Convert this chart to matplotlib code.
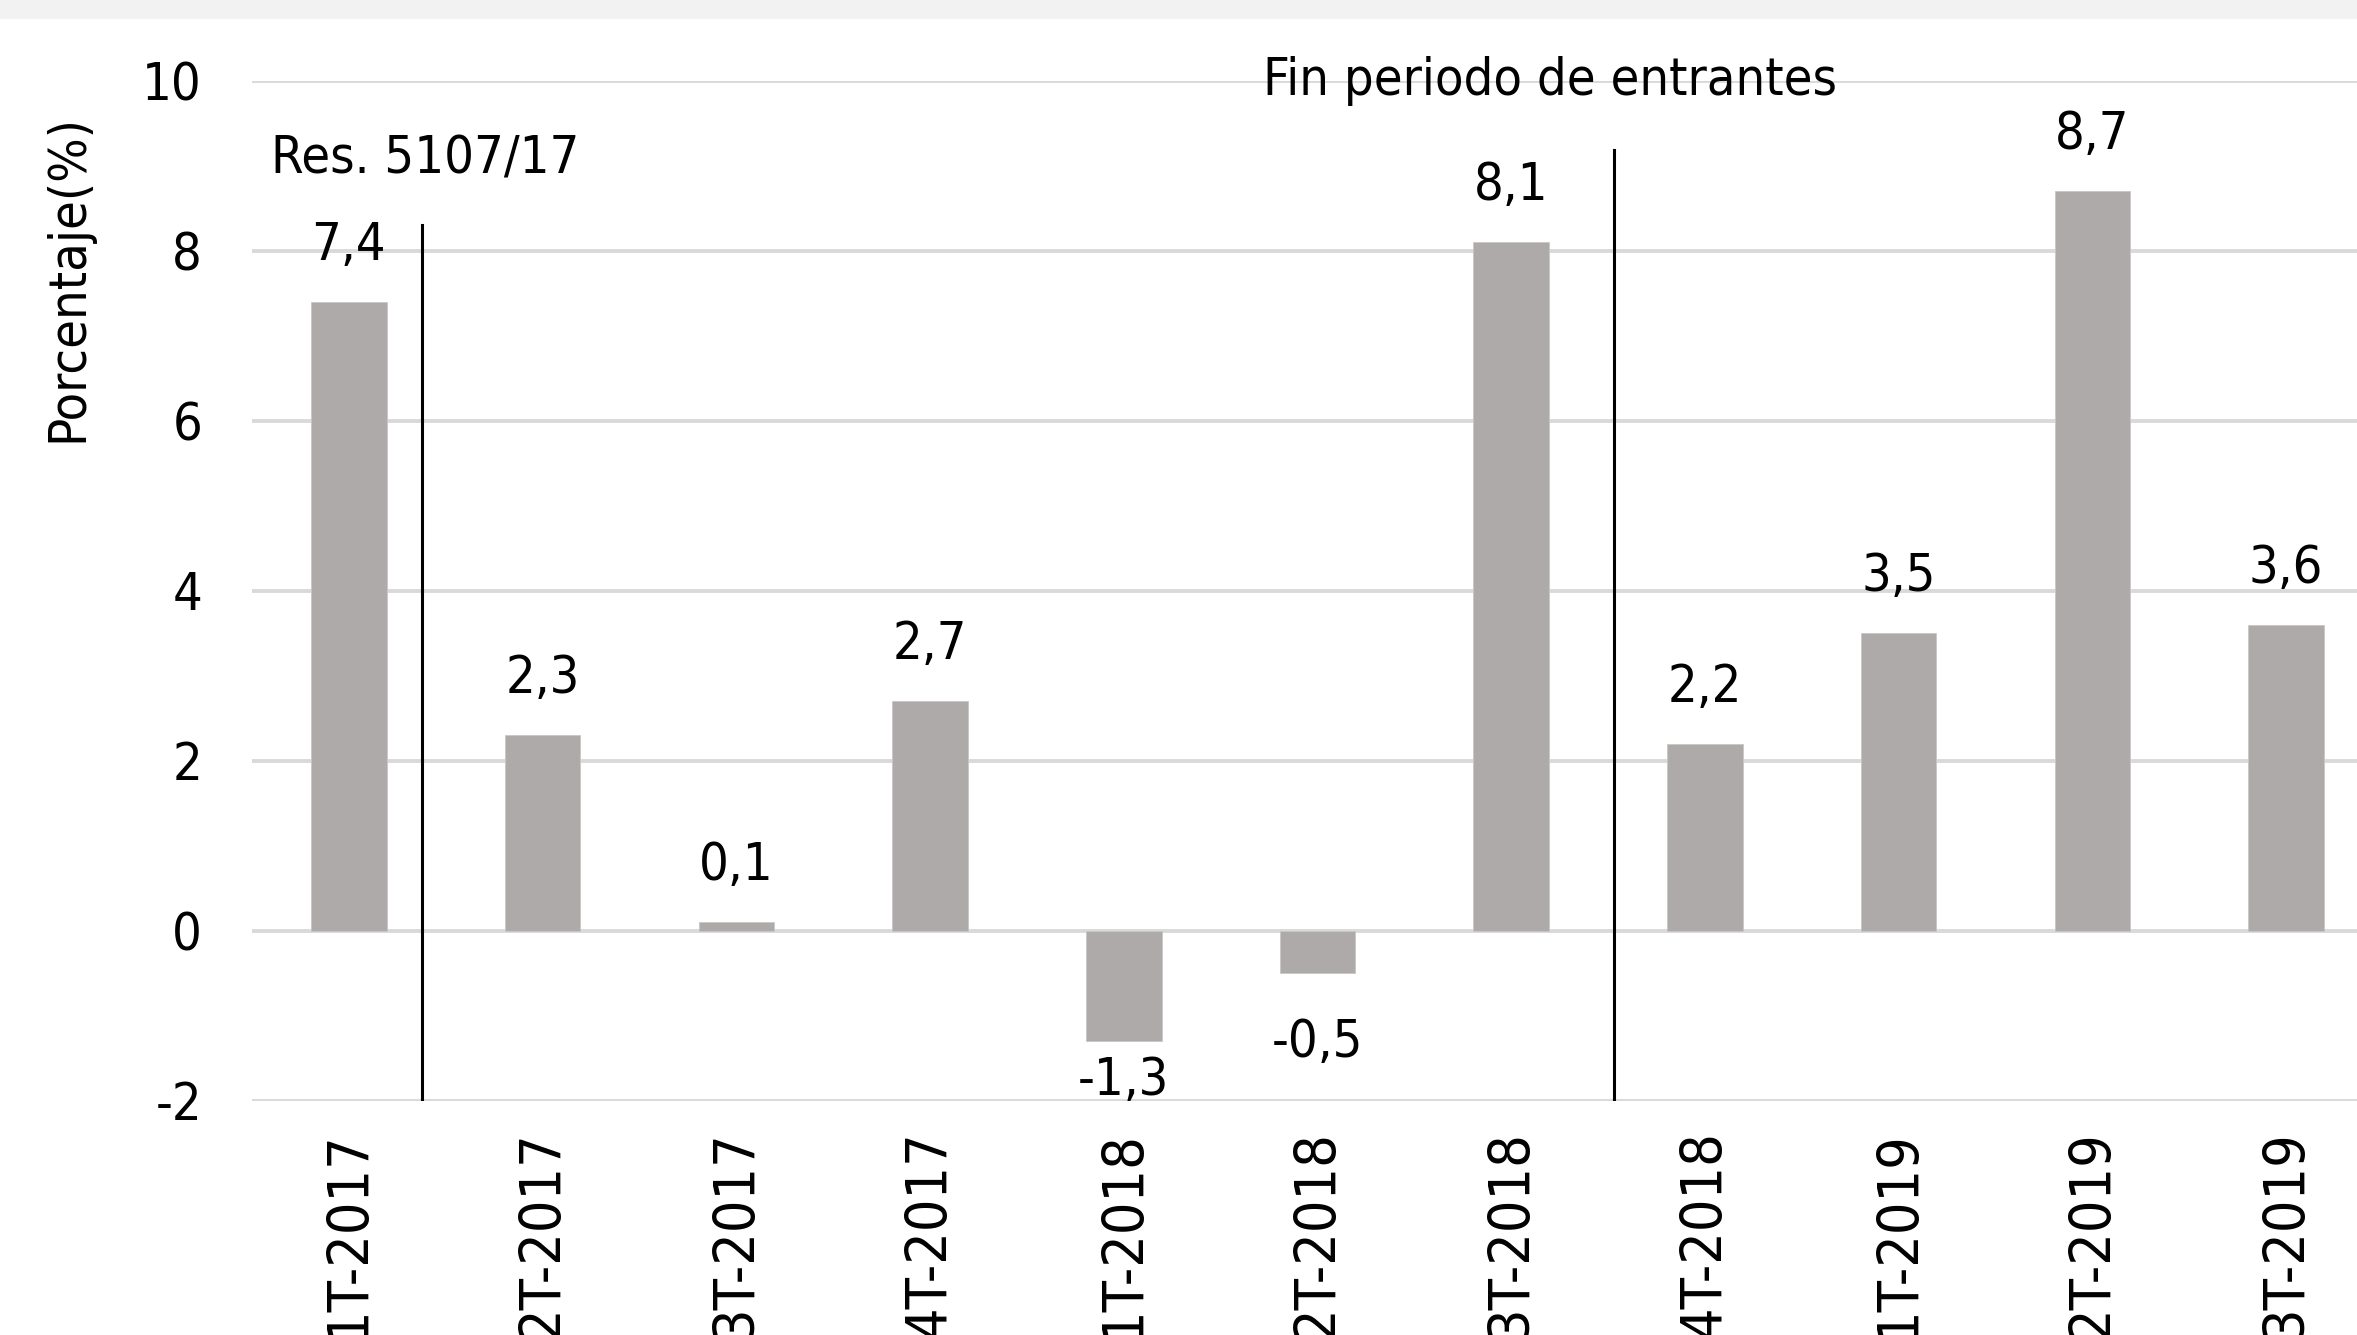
import matplotlib
matplotlib.use('Agg')
import matplotlib.pyplot as plt
from matplotlib import font_manager as fm
from matplotlib.patches import Rectangle

# Data
quarters = ['1T-2017', '2T-2017', '3T-2017', '4T-2017', '1T-2018', '2T-2018',
            '3T-2018', '4T-2018', '1T-2019', '2T-2019', '3T-2019']
growth = [7.4, 2.3, 0.1, 2.7, -1.3, -0.5, 8.1, 2.2, 3.5, 8.7, 3.6]
y_ticks = [-2, 0, 2, 4, 6, 8, 10]
marker_text = ['Res. 5107/17', 'Fin periodo de entrantes']

# Tahoma-like font: DejaVu Sans Condensed if present, else Liberation Sans
cond = [f.fname for f in fm.fontManager.ttflist
        if f.name == 'DejaVu Sans' and f.stretch == 'condensed'
        and f.style == 'normal' and f.weight in (400, 'normal', 'regular', 'book')]
if cond:
    def fp(size):
        return fm.FontProperties(fname=cond[0], size=size)
else:
    def fp(size):
        return fm.FontProperties(family='Liberation Sans', size=size)

BAR = '#AEAAAA'
GRID = '#D9D9D9'
FS = 37.5

fig = plt.figure(figsize=(23.57, 13.35), dpi=100)
fig.patches.append(Rectangle((0, 1 - 19 / 1335), 1, 19 / 1335, transform=fig.transFigure,
                             facecolor='#F2F2F2', edgecolor='none', zorder=0))
ax = fig.add_axes([252 / 2357, 1 - 1100.7 / 1335, 2131 / 2357, (1100.7 - 80.7) / 1335])

x = list(range(len(quarters)))
for yv in y_ticks:
    ax.axhline(yv, color=GRID, linewidth=2.8, zorder=1)
ax.bar(x, growth, width=0.39, color=BAR, edgecolor='#C9C6C6', linewidth=0.6, zorder=2)

# value labels
for i, v in enumerate(growth):
    lab = f'{v:.1f}'.replace('.', ',')
    if v >= 0:
        off = 42
    elif i == 4:
        off = -54
    else:
        off = -84
    ax.annotate(lab, (i, v), xytext=(0, off), textcoords='offset pixels',
                ha='center', va='baseline', fontproperties=fp(FS), zorder=3)

# marker lines
ax.plot([0.375, 0.375], [-2, 8.30], color='black', linewidth=2.2, zorder=3)
ax.plot([6.53, 6.53], [-2, 9.18], color='black', linewidth=2.2, zorder=3)
ax.text(-0.40, 8.91, marker_text[0], ha='left', va='baseline', fontproperties=fp(FS))
ax.text(4.72, 9.83, marker_text[1], ha='left', va='baseline', fontproperties=fp(FS))

ax.set_xlim(-0.5, 10.5)
ax.set_ylim(-2, 10)
ax.set_yticks(y_ticks)
ax.set_yticklabels([str(t) for t in y_ticks], fontproperties=fp(FS))
ax.set_xticks(x)
ax.set_xticklabels(quarters, rotation=90, va='top', ha='center', fontproperties=fp(41))
ax.tick_params(axis='y', length=0, pad=36)
ax.tick_params(axis='x', length=0, pad=21)
for s in ax.spines.values():
    s.set_visible(False)

fig.text(68 / 2357, 1 - 278 / 1335, 'Porcentaje(%)', rotation=90, ha='center', va='center',
         fontproperties=fp(FS))

plt.savefig('out.png', dpi=100)
